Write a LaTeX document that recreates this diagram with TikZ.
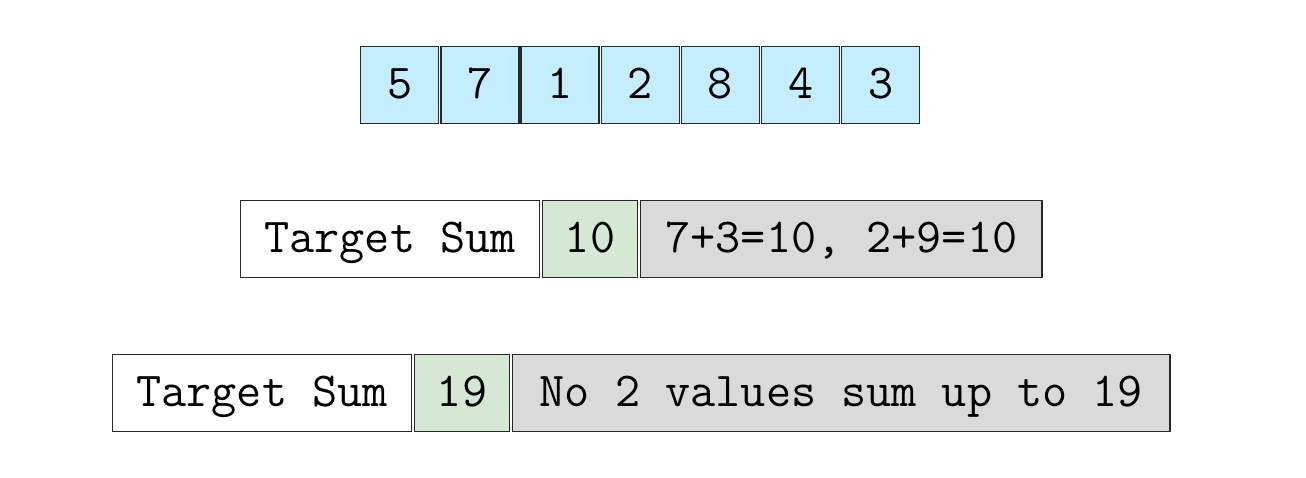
\documentclass[tikz,border=0pt]{standalone}
\usepackage{fontspec}
\usetikzlibrary{positioning}

\definecolor{cellblue}{RGB}{196,238,255}
\definecolor{sumgreen}{RGB}{213,232,212}
\definecolor{notegray}{RGB}{218,218,218}
\definecolor{edgegray}{RGB}{40,40,40}

\tikzset{
  box/.style={draw=edgegray, line width=1.1pt, inner sep=0pt, anchor=north west,
    minimum height=57.5pt, text height=20pt, text depth=0pt,
    font=\ttfamily\fontsize{36.6}{40}\selectfont},
  cell/.style={box, fill=cellblue, minimum width=58.5pt},
  label/.style={box, fill=white},
  target/.style={box, fill=sumgreen},
  note/.style={box, fill=notegray}
}

\begin{document}
\begin{tikzpicture}[x=0.75pt, y=-0.75pt]
  \useasboundingbox (0,0) rectangle (1306,478);

  % --- array of values ---
  \foreach \v [count=\i from 0] in {5,7,1,2,8,4,3} {
    \node[cell] (c\i) at ({360+80.17*\i},46) {\v};
  }

  % --- first query ---
  \node[label, minimum width=224pt] (lab1) at (240,200) {Target Sum};
  \node[target, minimum width=71pt] (sum1) at (542,200) {10};
  \node[note, minimum width=301pt] (res1) at (640,200) {7+3=10, 2+9=10};

  % --- second query ---
  \node[label, minimum width=224pt] (lab2) at (112,354) {Target Sum};
  \node[target, minimum width=71pt] (sum2) at (414,354) {19};
  \node[note, minimum width=493pt] (res2) at (512,354) {No 2 values sum up to 19};
\end{tikzpicture}
\end{document}
